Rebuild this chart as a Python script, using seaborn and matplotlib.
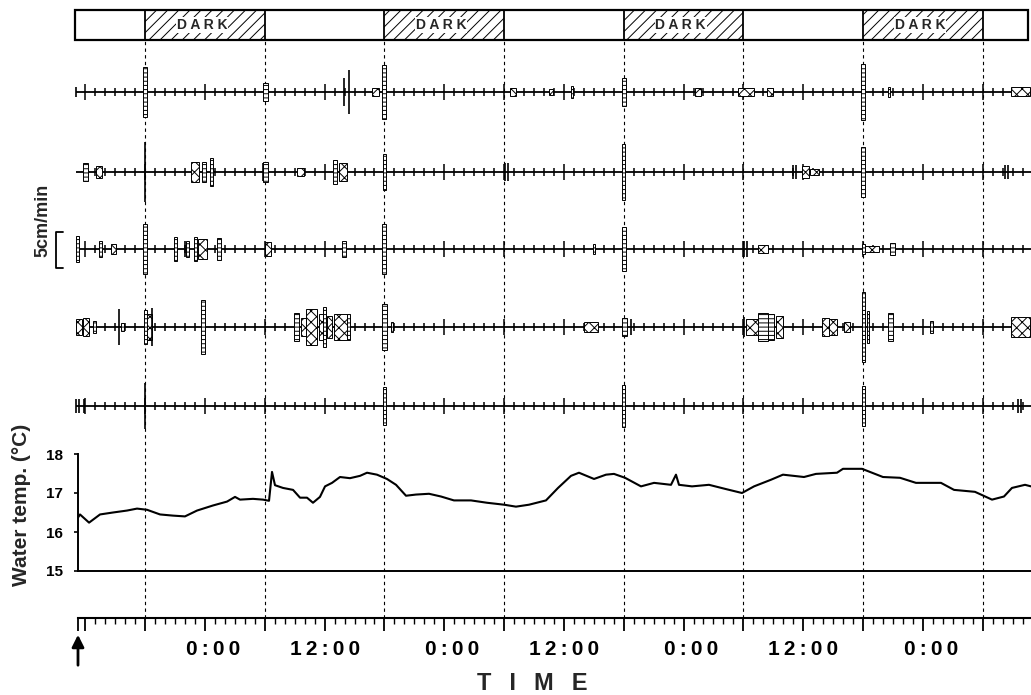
import matplotlib
matplotlib.use('Agg')
import matplotlib.pyplot as plt
from matplotlib.patches import Rectangle
from matplotlib.transforms import ScaledTranslation
import seaborn as sns
import numpy as np
import pandas as pd

# time axis in hours counted from 0:00 of the first (partial) day
rec_start = 11.26
rec_end = 106.85
bar_end = 106.55
dark_starts = [18, 42, 66, 90]
dark_len = 12
lights_times = [18, 30, 42, 54, 66, 78, 90, 102]

# water temperature trace
temp_hours = [11.26, 11.46, 12.37, 13.47, 14.77, 16.18, 17.18, 18.18, 19.49, 20.79,
              21.99, 23.20, 24.80, 26.21, 27.01, 27.51, 28.81, 29.82, 30.42, 30.72,
              31.02, 31.82, 32.83, 33.53, 34.23, 34.83, 35.53, 36.04, 36.74, 37.54,
              38.54, 39.55, 40.25, 41.25, 42.25, 43.16, 44.16, 45.16, 46.47, 47.67,
              48.97, 50.68, 52.28, 53.99, 55.19, 56.50, 58.20, 59.41, 60.71, 61.51,
              63.02, 64.22, 65.02, 66.13, 67.73, 69.04, 70.74, 71.24, 71.54, 72.85,
              74.55, 76.26, 77.86, 79.07, 80.77, 81.97, 84.08, 85.28, 87.39, 87.99,
              89.90, 92.00, 93.71, 95.31, 97.82, 99.13, 101.23, 102.94, 104.14, 104.94,
              106.25, 106.85]
temp_values = [16.37, 16.45, 16.24, 16.45, 16.50, 16.55, 16.60, 16.57, 16.45, 16.42,
               16.40, 16.55, 16.68, 16.78, 16.90, 16.83, 16.85, 16.83, 16.80, 17.54,
               17.20, 17.13, 17.08, 16.88, 16.88, 16.75, 16.90, 17.17, 17.26, 17.41,
               17.38, 17.44, 17.52, 17.47, 17.36, 17.21, 16.93, 16.96, 16.98, 16.91,
               16.81, 16.81, 16.75, 16.70, 16.65, 16.70, 16.81, 17.13, 17.44, 17.52,
               17.36, 17.47, 17.49, 17.39, 17.17, 17.26, 17.21, 17.47, 17.21, 17.17,
               17.21, 17.10, 17.00, 17.17, 17.34, 17.47, 17.41, 17.49, 17.52, 17.62,
               17.62, 17.41, 17.39, 17.26, 17.26, 17.08, 17.03, 16.83, 16.91, 17.13,
               17.21, 17.17]

# swimming activity, cm/min
# bars: (time, height)   cols / boxes: (time, width in h, height)
fish1_bars = [(11.05, 1.4), (37.9, 3.9), (38.4, 6.0)]
fish1_cols = [(18, 0.4, 6.9), (30.1, 0.5, 2.5), (42, 0.4, 7.6), (60.8, 0.25, 1.7),
              (66, 0.4, 3.8), (90, 0.4, 7.9), (92.6, 0.2, 1.4)]
fish1_boxes = [(41.1, 0.7, 1.0), (54.9, 0.6, 1.1), (58.7, 0.4, 0.8), (73.4, 0.6, 1.0),
               (78.3, 1.6, 1.1), (80.7, 0.6, 1.1), (105.75, 1.9, 1.25)]

fish2_bars = [(18, 8.3), (29.8, 2.4), (54.1, 2.5), (54.4, 2.5), (83.0, 1.9), (83.3, 1.9),
              (104.2, 1.9), (104.5, 1.9)]
fish2_cols = [(12.0, 0.5, 2.4), (23.9, 0.4, 2.8), (24.7, 0.3, 3.8), (30.1, 0.5, 2.8),
              (37.0, 0.4, 3.2), (42, 0.3, 5.1), (66, 0.3, 7.8), (90, 0.4, 6.9)]
fish2_boxes = [(13.4, 0.6, 1.8), (23.0, 0.8, 2.8), (33.6, 0.7, 1.0), (37.8, 0.8, 2.4),
               (84.2, 0.7, 1.8), (85.1, 0.9, 0.8)]

fish3_bars = [(22.0, 2.1), (78.1, 2.2), (78.4, 2.2)]
fish3_cols = [(11.2, 0.3, 3.5), (13.5, 0.3, 2.1), (18, 0.4, 6.9), (21.0, 0.3, 3.3),
              (22.2, 0.3, 2.1), (23.0, 0.3, 3.3), (25.45, 0.4, 3.1), (37.9, 0.4, 2.2),
              (42, 0.4, 6.9), (63.0, 0.2, 1.4), (66, 0.4, 6.0), (90, 0.3, 1.5),
              (93.0, 0.5, 1.7)]
fish3_boxes = [(14.8, 0.5, 1.4), (23.7, 0.9, 2.8), (30.3, 0.6, 1.9), (80.0, 1.0, 1.0),
               (90.9, 1.4, 0.8)]

fish4_bars = [(15.4, 5.1), (18.7, 5.3), (66.7, 2.2), (78.1, 2.8)]
fish4_cols = [(12.9, 0.3, 1.8), (15.7, 0.3, 1.1), (18, 0.3, 4.7), (23.8, 0.4, 7.4),
              (33.2, 0.5, 4.0), (36.0, 0.3, 5.6), (38.4, 0.3, 3.5), (42, 0.5, 6.3),
              (42.8, 0.2, 1.4), (66.1, 0.5, 2.6), (80.0, 1.0, 3.8), (80.8, 0.6, 3.6),
              (90, 0.3, 9.7), (90.5, 0.3, 4.4), (92.8, 0.5, 3.9), (96.9, 0.3, 1.7)]
fish4_boxes = [(11.35, 0.6, 2.1), (12.05, 0.6, 2.5), (18.4, 0.5, 3.6), (33.9, 0.5, 2.5),
               (34.7, 1.1, 5.1), (35.6, 0.4, 3.5), (36.5, 0.5, 3.1), (37.6, 1.3, 3.5),
               (62.7, 1.4, 1.5), (78.9, 1.2, 2.1), (81.6, 0.7, 3.1), (86.2, 0.7, 2.5),
               (87.0, 0.8, 2.1), (88.4, 0.6, 1.4), (105.8, 1.9, 2.8)]

fish5_bars = [(11.05, 1.9), (11.35, 1.9), (11.85, 1.9), (18, 6.4), (105.5, 1.9), (105.8, 1.9)]
fish5_cols = [(42, 0.3, 5.4), (66, 0.3, 5.8), (90, 0.3, 5.6)]
fish5_boxes = []

fish = [(fish1_bars, fish1_cols, fish1_boxes),
        (fish2_bars, fish2_cols, fish2_boxes),
        (fish3_bars, fish3_cols, fish3_boxes),
        (fish4_bars, fish4_cols, fish4_boxes),
        (fish5_bars, fish5_cols, fish5_boxes)]

tick_labels = {24: '0:00', 36: '12:00', 48: '0:00', 60: '12:00', 72: '0:00', 84: '12:00', 96: '0:00'}
scale_cm = 5

sns.set_style('white')
plt.rcParams['font.family'] = ['Liberation Sans', 'DejaVu Sans']
plt.rcParams['font.weight'] = 'bold'
plt.rcParams['hatch.linewidth'] = 0.7

W, H = 1031, 695
fig = plt.figure(figsize=(W / 100, H / 100), dpi=100)


def axes_px(x0, y0, x1, y1):
    return fig.add_axes([x0 / W, 1 - y1 / H, (x1 - x0) / W, (y1 - y0) / H])


X0, X1 = 78, 1031
px_per_cm = 7.2
baselines = [92, 172, 249, 327, 406]

# dashed light/dark borders through the whole figure
ax_grid = axes_px(X0, 40, X1, 618)
ax_grid.set_xlim(rec_start, rec_end)
ax_grid.set_ylim(0, 1)
ax_grid.axis('off')
ax_grid.vlines(lights_times, 0, 1, colors='black', lw=0.8, linestyles=(0, (3, 3)))

# light / dark bar
ax_bar = axes_px(X0, 10, X1, 40)
ax_bar.set_xlim(rec_start, rec_end)
ax_bar.set_ylim(0, 1)
ax_bar.axis('off')
ax_bar.add_patch(Rectangle((10.96, 0), bar_end - 10.96, 1, fill=False, lw=1.6,
                           edgecolor='black', clip_on=False))
for d in dark_starts:
    ax_bar.add_patch(Rectangle((d, 0), dark_len, 1, fill=False, hatch='///', lw=1.3,
                               edgecolor='black', clip_on=False))
    ax_bar.text(d + dark_len / 2 - 0.3, 0.5, 'D A R K', ha='center', va='center',
                fontsize=10, fontweight='bold',
                bbox=dict(facecolor='white', edgecolor='none', pad=0.5))

# activity rows
ax_act = axes_px(X0, 40, X1, 440)
ax_act.set_xlim(rec_start, rec_end)
ax_act.set_ylim(440, 40)
ax_act.axis('off')
hours = np.arange(12, 107)
for y0, (bars, cols, boxes) in zip(baselines, fish):
    ax_act.hlines(y0, 11.05, rec_end, colors='black', lw=1.3, clip_on=False)
    short = [h for h in hours if h % 6]
    longt = [h for h in hours if h % 6 == 0]
    ax_act.vlines(short, y0 - 4, y0 + 4, colors='black', lw=1.1)
    ax_act.vlines(longt, y0 - 8, y0 + 8, colors='black', lw=1.1)
    for t, a in bars:
        half = a * px_per_cm / 2
        ax_act.vlines(t, y0 - half, y0 + half, colors='black', lw=1.2, zorder=4, clip_on=False)
    for t, w, a in cols:
        hgt = a * px_per_cm
        ax_act.add_patch(Rectangle((t - w / 2, y0 - hgt / 2), w, hgt, facecolor='white',
                                   edgecolor='black', hatch='----', lw=0.7, zorder=3,
                                   clip_on=False))
    for t, w, a in boxes:
        hgt = a * px_per_cm
        ax_act.add_patch(Rectangle((t - w / 2, y0 - hgt / 2), w, hgt, facecolor='white',
                                   edgecolor='black', hatch='xxx', lw=0.7, zorder=3,
                                   clip_on=False))

# scale bar
sb_y = 250
sb_half = scale_cm * px_per_cm / 2
ax_act.plot([9.76, 9.06, 9.06, 9.76], [sb_y - sb_half, sb_y - sb_half, sb_y + sb_half, sb_y + sb_half],
            color='black', lw=1.3, clip_on=False)
ax_act.text(7.75, 220, f'{scale_cm}cm/min', rotation=90, ha='center', va='center',
            fontsize=13, fontweight='bold', clip_on=False)

# water temperature
ax_temp = axes_px(X0, 454, X1, 571)
ax_temp.patch.set_alpha(0)
df = pd.DataFrame({'time': temp_hours, 'temp': temp_values})
sns.lineplot(data=df, x='time', y='temp', ax=ax_temp, color='black', lw=1.5, estimator=None)
ax_temp.set_xlim(rec_start, rec_end)
ax_temp.set_ylim(15, 18)
ax_temp.set_yticks([15, 16, 17, 18])
ax_temp.set_xticks([])
ax_temp.set_xlabel('')
ax_temp.set_ylabel('')
sns.despine(ax=ax_temp)
for s in ['left', 'bottom']:
    ax_temp.spines[s].set_linewidth(1.4)
    ax_temp.spines[s].set_color('black')
ax_temp.tick_params(axis='y', direction='out', length=3, width=1.2, pad=8, labelsize=11,
                    left=True, colors='black')
for lab in ax_temp.get_yticklabels():
    lab.set_fontweight('bold')
fig.text(22 / W, 1 - 505 / H, 'Water temp. (\u00b0C)', rotation=90, ha='center', va='center',
         fontsize=15, fontweight='bold')

# time axis
ax_time = axes_px(X0, 590, X1, 618)
ax_time.patch.set_alpha(0)
ax_time.set_xlim(rec_start, rec_end)
for s in ['top', 'left', 'right']:
    ax_time.spines[s].set_visible(False)
ax_time.spines['bottom'].set_linewidth(1.5)
ax_time.spines['bottom'].set_color('black')
ax_time.set_yticks([])
major = [rec_start] + list(range(12, 103, 6))
ax_time.set_xticks(major)
ax_time.set_xticklabels(['\u2009'.join(tick_labels.get(m, '')) for m in major])
ax_time.set_xticks(list(range(12, 107)), minor=True)
ax_time.tick_params(axis='x', which='major', direction='out', length=9.5, width=1.3, pad=6,
                    labelsize=15, bottom=True, colors='black')
ax_time.tick_params(axis='x', which='minor', direction='out', length=4, width=1.0, bottom=True,
                    colors='black')
shift = ScaledTranslation(8 / 100, 0, fig.dpi_scale_trans)
for m, lab in zip(major, ax_time.get_xticklabels()):
    lab.set_fontweight('bold')
    if tick_labels.get(m) == '0:00':
        lab.set_transform(lab.get_transform() + shift)

ax_time.annotate('', xy=(rec_start, 63), xytext=(rec_start, 27),
                 xycoords=('data', 'figure pixels'),
                 arrowprops=dict(arrowstyle='-|>', color='black', lw=2.0, mutation_scale=18))

fig.text(532 / W, 1 - 683 / H, 'T  \u2009I  \u2009M  \u2009E', ha='center', va='center',
         fontsize=17, fontweight='bold')

fig.savefig('out.png', dpi=100)
